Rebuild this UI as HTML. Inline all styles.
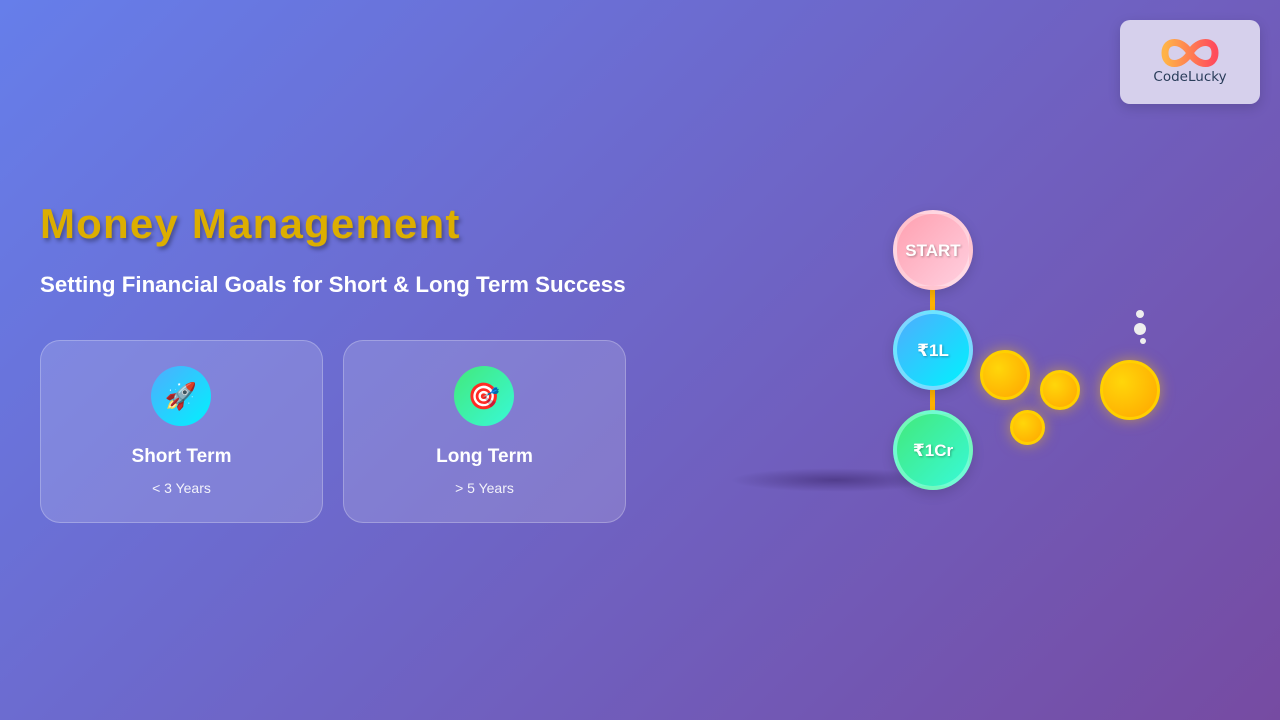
<!DOCTYPE html>
<html><head><meta charset="utf-8"><style>
*{margin:0;padding:0;box-sizing:border-box}
body{width:1280px;height:720px;overflow:hidden;position:relative;font-family:"Liberation Sans","DejaVu Sans",sans-serif;background:linear-gradient(135deg,#667eea 0%,#764ba2 100%)}
.abs{position:absolute}
h1{position:absolute;left:40px;top:200px;font-size:42px;font-weight:900;color:#dcae00;text-shadow:2px 3px 4px rgba(0,0,0,0.35);letter-spacing:1.2px}
.sub{position:absolute;left:40px;top:272px;font-size:22.3px;color:#fff;font-weight:600}
.card{position:absolute;top:340px;width:283px;height:183px;border-radius:20px;background:rgba(255,255,255,0.15);border:1px solid rgba(255,255,255,0.25);text-align:center;color:#fff}
.ic{position:absolute;left:110px;top:25px;width:60px;height:60px;border-radius:50%;font-size:26px;line-height:60px}
.card .t{position:absolute;top:105px;width:100%;font-size:19px;font-weight:700}
.card .s{position:absolute;top:139px;width:100%;font-size:14px;opacity:.9}
.node{position:absolute;left:893px;width:80px;height:80px;border-radius:50%;color:#fff;font-weight:700;font-size:17px;text-align:center;line-height:74px;text-shadow:1px 1px 2px rgba(0,0,0,0.3);border:4px solid rgba(255,255,255,0.3);box-shadow:0 4px 12px rgba(0,0,0,0.15)}
.coin{position:absolute;border-radius:50%;background:radial-gradient(circle at 35% 35%,#ffd60a,#ffa500);border:3px solid #ffd000;box-shadow:0 0 14px rgba(255,200,0,0.5)}
.dot{position:absolute;background:#eee;border-radius:50%}
</style></head><body>
<div class="abs" style="left:1120px;top:20px;width:140px;height:84px;border-radius:10px;background:#d6d0ec;box-shadow:0 4px 12px rgba(0,0,0,0.15)">
<svg class="abs" style="left:40px;top:16px" width="60" height="34" viewBox="0 0 60 34"><path d="M30 17 C22 3 5 3 5 17 C5 31 22 31 30 17 C38 3 55 3 55 17 C55 31 38 31 30 17Z" fill="none" stroke="url(#g)" stroke-width="7"/><defs><linearGradient id="g"><stop offset="0" stop-color="#ffb347"/><stop offset="1" stop-color="#ff4b5c"/></linearGradient></defs></svg>
<div class="abs" style="left:0;top:49px;width:140px;text-align:center;font-size:13.5px;color:#2a3d5a;font-family:'DejaVu Sans',sans-serif">CodeLucky</div>
</div>
<h1>Money Management</h1>
<div class="sub">Setting Financial Goals for Short &amp; Long Term Success</div>
<div class="card" style="left:40px"><div class="ic" style="background:linear-gradient(135deg,#4facfe,#00f2fe)">🚀</div><div class="t">Short Term</div><div class="s">&lt; 3 Years</div></div>
<div class="card" style="left:343px"><div class="ic" style="background:linear-gradient(135deg,#43e97b,#38f9d7)">🎯</div><div class="t">Long Term</div><div class="s">&gt; 5 Years</div></div>
<div class="abs" style="left:730px;top:468px;width:210px;height:24px;border-radius:50%;background:radial-gradient(ellipse,rgba(60,40,110,0.6),rgba(60,40,110,0) 70%)"></div>
<div class="abs" style="left:930px;top:288px;width:5px;height:130px;background:#ffb300"></div>
<div class="node" style="top:210px;background:linear-gradient(135deg,#ffa0b0,#ffd0e0)">START</div>
<div class="node" style="top:310px;background:linear-gradient(135deg,#4facfe,#00f2fe);border-color:rgba(150,230,255,0.7)">₹1L</div>
<div class="node" style="top:410px;background:linear-gradient(135deg,#43e97b,#38f9d7);border-color:rgba(150,255,220,0.6)">₹1Cr</div>
<div class="coin" style="left:980px;top:350px;width:50px;height:50px"></div>
<div class="coin" style="left:1040px;top:370px;width:40px;height:40px"></div>
<div class="coin" style="left:1010px;top:410px;width:35px;height:35px"></div>
<div class="coin" style="left:1100px;top:360px;width:60px;height:60px"></div>
<div class="dot" style="left:1136px;top:310px;width:8px;height:8px"></div>
<div class="dot" style="left:1134px;top:323px;width:12px;height:12px"></div>
<div class="dot" style="left:1140px;top:338px;width:6px;height:6px"></div>
</body></html>
